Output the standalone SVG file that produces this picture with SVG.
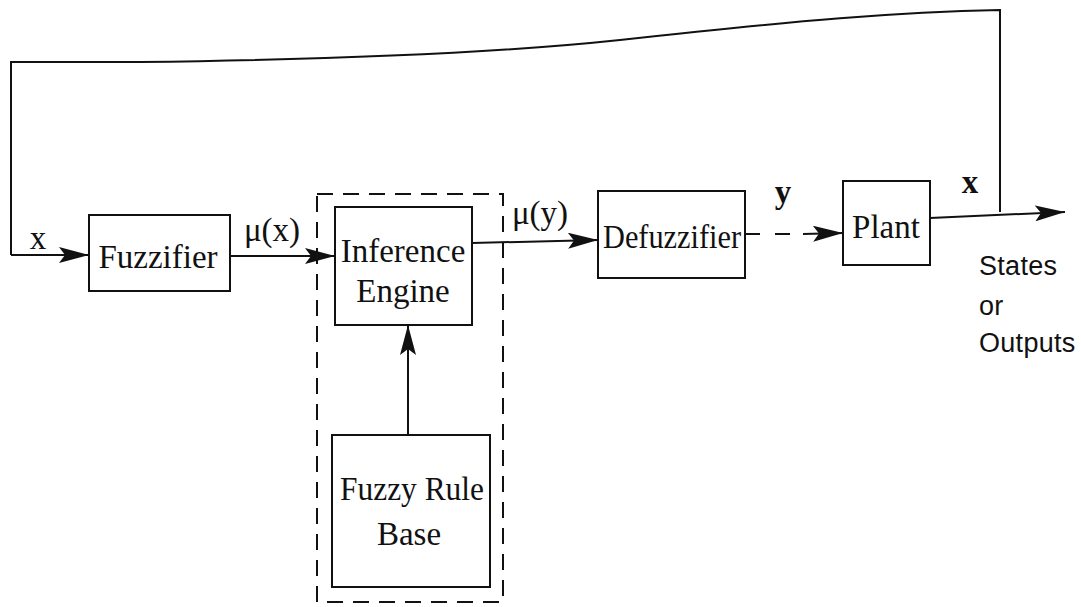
<svg xmlns="http://www.w3.org/2000/svg" width="1081" height="607" viewBox="0 0 1081 607">
<style>
.box{fill:#fff;stroke:#111;stroke-width:2}
.ln{fill:none;stroke:#111;stroke-width:2}
.t{font-family:"Liberation Serif","DejaVu Serif",serif;font-size:33px;fill:#111;text-anchor:middle}
.s{font-family:"Liberation Sans","DejaVu Sans",sans-serif;font-size:27px;fill:#111;letter-spacing:0.3px}
</style>
<defs>
<marker id="ah" viewBox="0 0 30 16" refX="30" refY="8" markerWidth="30" markerHeight="16" markerUnits="userSpaceOnUse" orient="auto">
<path d="M0,0 L30,8 L0,16 L6,8 Z" fill="#111"/>
</marker>
</defs>
<rect width="1081" height="607" fill="#fff"/>
<g id="group-dashed">
<rect x="317" y="194" width="186" height="408" fill="none" stroke="#111" stroke-width="2" stroke-dasharray="16,10"/>
</g>
<g id="connectors">
<path class="ln" d="M11,255 L11,62 L140,62 C300,60 480,55 620,40 C800,20 900,12 1000,10 L1000,212"/>
<path class="ln" d="M11,255 L89,255" marker-end="url(#ah)"/>
<path class="ln" d="M230,256 L335,256" marker-end="url(#ah)"/>
<path class="ln" d="M472,243 L598,240" marker-end="url(#ah)"/>
<path class="ln" d="M745,234 L760,234 M775,234 L790,234"/>
<path class="ln" d="M803,234 L843,233" marker-end="url(#ah)"/>
<path class="ln" d="M930,218 L1065,212" marker-end="url(#ah)"/>
<path class="ln" d="M408,434 L408,325" marker-end="url(#ah)"/>
</g>
<g id="fuzzifier"><rect class="box" x="89" y="215" width="141" height="76"/><text class="t" x="158" y="268">Fuzzifier</text></g>
<g id="inference"><rect class="box" x="335" y="207" width="137" height="118"/><text class="t" x="403" y="262">Inference</text><text class="t" x="403" y="302">Engine</text></g>
<g id="rulebase"><rect class="box" x="332" y="435" width="158" height="152"/><text class="t" x="412" y="500" textLength="144" lengthAdjust="spacingAndGlyphs">Fuzzy Rule</text><text class="t" x="409" y="545">Base</text></g>
<g id="defuzzifier"><rect class="box" x="598" y="191" width="147" height="87"/><text class="t" x="672" y="248" textLength="138" lengthAdjust="spacingAndGlyphs">Defuzzifier</text></g>
<g id="plant"><rect class="box" x="843" y="181" width="87" height="84"/><text class="t" x="886" y="238">Plant</text></g>
<g id="labels">
<text class="t" x="38" y="249" font-size="28">x</text>
<text class="t" x="272" y="241" font-size="30">μ(x)</text>
<text class="t" x="540" y="224" font-size="30">μ(y)</text>
<text class="t" x="783" y="203" font-weight="bold" font-size="28">y</text>
<text class="t" x="970" y="193" font-weight="bold" font-size="28">x</text>
<text class="s" x="979" y="275">States</text>
<text class="s" x="979" y="315">or</text>
<text class="s" x="979" y="352">Outputs</text>
</g>
</svg>
